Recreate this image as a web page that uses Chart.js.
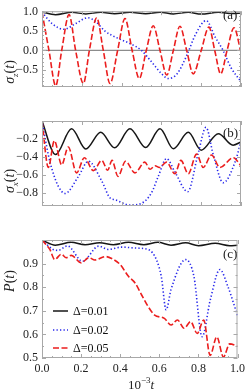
<!DOCTYPE html>
<html>
<head>
<meta charset="utf-8">
<script src="https://cdn.jsdelivr.net/npm/chart.js@4.4.1/dist/chart.umd.min.js"></script>
<style>
  body { margin: 0; background: #fff; }
  #wrap { position: relative; width: 249px; height: 391px; overflow: hidden; font-family: "Liberation Serif", "DejaVu Serif", serif; color: #222; }
  canvas { position: absolute; left: 0; top: 0; }
  .lbl { position: absolute; font-size: 13px; white-space: nowrap; line-height: 1; }
  .ytitle { font-size: 14px; transform: translate(-50%, -50%) rotate(-90deg); }
  .xtitle { transform: translate(-50%, -50%); }
  sub, sup { font-size: 9px; line-height: 0; }
</style>
</head>
<body>
<div id="wrap">
  <canvas id="pa" width="249" height="391"></canvas>
  <canvas id="pb" width="249" height="391"></canvas>
  <canvas id="pc" width="249" height="391"></canvas>
  <div class="lbl ytitle" style="left:10px;top:72px"><i>σ<sub>z</sub></i>(<i>t</i>)</div>
  <div class="lbl ytitle" style="left:10px;top:181px"><i>σ<sub>x</sub></i>(<i>t</i>)</div>
  <div class="lbl ytitle" style="left:10px;top:281px"><i>P</i>(<i>t</i>)</div>
  <div class="lbl xtitle" style="left:141px;top:384px">10<sup>−3</sup><i>t</i></div>
  <div class="lbl" style="left:223px;top:8px">(a)</div>
  <div class="lbl" style="left:223px;top:126px">(b)</div>
  <div class="lbl" style="left:223px;top:247px">(c)</div>
</div>
<script>
// Ticks
const xTicks = [0, 0.2, 0.4, 0.6, 0.8, 1.0];
const xMinor = [0.05, 0.1, 0.15, 0.25, 0.3, 0.35, 0.45, 0.5, 0.55, 0.65, 0.7, 0.75, 0.85, 0.9, 0.95];
const yTicksA = [-0.5, 0, 0.5, 1.0];
const yMinorA = [-0.9, -0.8, -0.7, -0.6, -0.4, -0.3, -0.2, -0.1, 0.1, 0.2, 0.3, 0.4, 0.6, 0.7, 0.8, 0.9];
const yTicksB = [-0.8, -0.6, -0.4, -0.2];
const yMinorB = [-0.9, -0.7, -0.5, -0.3, -0.1];
const yTicksC = [0.5, 0.6, 0.7, 0.8, 0.9];
const yMinorC = [0.55, 0.65, 0.75, 0.85, 0.95];

// Panel (a): sigma_z
const tZ1 = [0, 0.068, 0.149, 0.22, 0.295, 0.365, 0.442, 0.521, 0.593, 0.66, 0.735, 0.80, 0.886, 0.96, 1.0];
const z1 = [1.0, 0.93, 0.99, 0.95, 0.99, 0.955, 0.995, 0.955, 0.995, 0.95, 0.99, 0.945, 0.99, 0.96, 0.975];
const tZ2 = [0, 0.05, 0.11, 0.17, 0.23, 0.27, 0.317, 0.38, 0.442, 0.50, 0.551, 0.60, 0.635, 0.68, 0.73, 0.77, 0.825, 0.87, 0.91, 0.95, 1.0];
const z2 = [1.0, 0.7, 0.55, 0.7, 0.85, 0.75, 0.5, 0.32, 0.18, 0.0, -0.3, -0.6, -0.73, -0.6, -0.1, 0.4, 0.775, 0.35, 0.0, -0.45, -0.81];
const tZ5 = [0, 0.035, 0.069, 0.099, 0.136, 0.169, 0.208, 0.238, 0.275, 0.308, 0.342, 0.38, 0.417, 0.453, 0.489, 0.524, 0.559, 0.593, 0.627, 0.66, 0.693, 0.727, 0.76, 0.80, 0.839, 0.868, 0.898, 0.93, 0.965, 1.0];
const z5 = [1.0, 0, -0.92, 0, 0.93, 0, -0.86, 0, 0.85, 0, -0.86, 0, 0.83, 0, -0.73, 0, 0.64, 0, -0.64, 0, 0.63, 0, -0.61, 0, 0.605, 0, -0.61, 0, 0.59, -0.05];

// Panel (b): sigma_x
const tX1 = [0, 0.068, 0.149, 0.22, 0.295, 0.365, 0.442, 0.521, 0.593, 0.66, 0.735, 0.80, 0.886, 0.96, 1.0];
const x1 = [0, -0.375, -0.087, -0.313, -0.127, -0.30, -0.087, -0.297, -0.087, -0.31, -0.127, -0.326, -0.142, -0.27, -0.234];
const tX2 = [0, 0.032, 0.049, 0.082, 0.116, 0.183, 0.233, 0.30, 0.342, 0.367, 0.442, 0.50, 0.551, 0.584, 0.626, 0.668, 0.732, 0.785, 0.824, 0.861, 0.911, 0.97, 1.0];
const x2 = [0, -0.38, -0.53, -0.73, -0.81, -0.62, -0.45, -0.67, -0.86, -0.88, -0.94, -0.92, -0.8, -0.62, -0.42, -0.57, -0.79, -0.36, -0.07, -0.38, -0.69, -0.46, -0.23];
const tX5 = [0, 0.032, 0.062, 0.099, 0.132, 0.174, 0.213, 0.258, 0.30, 0.33, 0.352, 0.382, 0.42, 0.467, 0.517, 0.543, 0.568, 0.59, 0.626, 0.668, 0.698, 0.735, 0.777, 0.81, 0.852, 0.894, 0.961, 1.0];
const x5 = [0, -0.52, -0.22, -0.49, -0.29, -0.58, -0.41, -0.555, -0.44, -0.55, -0.44, -0.62, -0.45, -0.58, -0.46, -0.54, -0.5, -0.52, -0.46, -0.59, -0.44, -0.59, -0.37, -0.52, -0.38, -0.52, -0.41, -0.5];

// Panel (c): P
const tP1 = [0, 0.068, 0.149, 0.22, 0.295, 0.365, 0.442, 0.521, 0.593, 0.66, 0.735, 0.80, 0.886, 0.96, 1.0];
const p1 = [1.0, 0.978, 0.99, 0.98, 0.988, 0.98, 0.99, 0.98, 0.99, 0.978, 0.988, 0.976, 0.986, 0.976, 0.978];
const tP2 = [0, 0.057, 0.082, 0.13, 0.207, 0.29, 0.34, 0.408, 0.475, 0.543, 0.585, 0.61, 0.635, 0.66, 0.735, 0.777, 0.819, 0.861, 0.91, 0.952, 1.0];
const p2 = [1.0, 0.96, 0.956, 0.975, 0.91, 0.974, 0.96, 0.97, 0.966, 0.96, 0.917, 0.846, 0.704, 0.79, 0.917, 0.846, 0.59, 0.747, 0.875, 0.80, 0.68];
const tP5 = [0, 0.04, 0.065, 0.099, 0.124, 0.15, 0.2, 0.241, 0.27, 0.325, 0.36, 0.40, 0.442, 0.476, 0.509, 0.543, 0.576, 0.626, 0.66, 0.693, 0.727, 0.76, 0.794, 0.827, 0.86, 0.894, 0.928, 0.96, 1.0];
const p5 = [1.0, 0.96, 0.917, 0.94, 0.925, 0.935, 0.903, 0.925, 0.915, 0.93, 0.92, 0.896, 0.846, 0.818, 0.768, 0.718, 0.682, 0.668, 0.64, 0.661, 0.626, 0.654, 0.604, 0.661, 0.511, 0.59, 0.504, 0.56, 0.55];

const legendLabels = ['Δ=0.01', 'Δ=0.02', 'Δ=0.05'];

const FONT = '"Liberation Serif", "DejaVu Serif", serif';
const BLACK = '#161616';
const BLUE = 'rgb(40,40,235)';
const RED = 'rgb(235,30,30)';
const styles = [
    { borderColor: BLACK, borderWidth: 1.5, borderDash: [], order: 3 },
    { borderColor: BLUE, borderWidth: 1.6, borderDash: [1.3, 2.2], order: 2 },
    { borderColor: RED, borderWidth: 1.6, borderDash: [6, 2.5], order: 1 }
];

function pts(ts, vs) {
    return ts.map((t, i) => ({ x: t, y: vs[i] }));
}

function series(ts, vs, k) {
    return Object.assign({
        data: pts(ts, vs),
        pointRadius: 0,
        cubicInterpolationMode: 'monotone',
        fill: false
    }, styles[k]);
}

function fmt(v) {
    const s = Math.abs(v).toFixed(1);
    return v < -1e-9 ? '\u2212' + s : s;
}

// frame with inward ticks on all four sides
const framePlugin = {
    id: 'frame',
    afterDraw(chart, args, opts) {
        const { ctx, chartArea: a, scales } = chart;
        ctx.save();
        ctx.strokeStyle = '#a8a8a8';
        ctx.lineWidth = 1;
        ctx.strokeRect(a.left + 0.5, a.top + 0.5, a.right - a.left - 1, a.bottom - a.top - 1);
        ctx.beginPath();
        const tick = (vals, len) => {
            vals.forEach(v => {
                const px = Math.round(scales.x.getPixelForValue(v)) + 0.5;
                ctx.moveTo(px, a.bottom); ctx.lineTo(px, a.bottom - len);
                ctx.moveTo(px, a.top); ctx.lineTo(px, a.top + len);
            });
        };
        const ytick = (vals, len) => {
            vals.forEach(v => {
                const py = Math.round(scales.y.getPixelForValue(v)) + 0.5;
                ctx.moveTo(a.left, py); ctx.lineTo(a.left + len, py);
                ctx.moveTo(a.right, py); ctx.lineTo(a.right - len, py);
            });
        };
        tick(xTicks, 4);
        tick(xMinor, 2);
        ytick(opts.major, 4);
        ytick(opts.minor, 2);
        ctx.stroke();
        ctx.restore();
    }
};

const legendPlugin = {
    id: 'insideLegend',
    afterDraw(chart) {
        const { ctx } = chart;
        const ys = [311, 330, 348];
        ctx.save();
        ctx.font = '12px ' + FONT;
        ctx.textBaseline = 'middle';
        ctx.fillStyle = '#111';
        legendLabels.forEach((txt, i) => {
            const st = styles[i];
            ctx.beginPath();
            ctx.strokeStyle = st.borderColor;
            ctx.lineWidth = st.borderWidth;
            ctx.setLineDash(st.borderDash);
            ctx.moveTo(53, ys[i]);
            ctx.lineTo(68, ys[i]);
            ctx.stroke();
            ctx.setLineDash([]);
            ctx.fillText(txt, 73, ys[i] + 0.5);
        });
        ctx.restore();
    }
};

function makePanel(id, cfg) {
    return new Chart(document.getElementById(id), {
        type: 'line',
        data: { datasets: cfg.datasets },
        options: {
            responsive: false,
            animation: false,
            events: [],
            layout: { autoPadding: false, padding: { top: cfg.top, bottom: cfg.bottom, left: 0, right: 8 } },
            plugins: {
                legend: { display: false },
                tooltip: { enabled: false },
                frame: { major: cfg.yTicks, minor: cfg.yMinor }
            },
            scales: {
                x: {
                    type: 'linear', min: 0, max: 1,
                    display: cfg.showX,
                    grid: { display: false, drawTicks: false },
                    border: { display: false },
                    afterBuildTicks: s => { s.ticks = xTicks.map(v => ({ value: v })); },
                    afterFit: s => { s.height = 33; },
                    ticks: { font: { family: FONT, size: 12 }, color: '#222', padding: 4, maxRotation: 0, callback: v => fmt(v) }
                },
                y: {
                    type: 'linear', min: cfg.yMin, max: cfg.yMax,
                    grid: { display: false, drawTicks: false },
                    border: { display: false },
                    afterBuildTicks: s => { s.ticks = cfg.yTicks.map(v => ({ value: v })); },
                    afterFit: s => { s.width = 42; },
                    ticks: { font: { family: FONT, size: 12 }, color: '#222', padding: 4, callback: v => fmt(v) }
                }
            }
        },
        plugins: [framePlugin].concat(cfg.plugins || [])
    });
}

// zero line in panel (a)
const zeroLine = {
    data: [{ x: 0, y: 0 }, { x: 1, y: 0 }],
    borderColor: '#8c8c8c', borderWidth: 1.3, pointRadius: 0, order: 4
};

makePanel('pa', {
    top: 4, bottom: 271, yMin: -0.95, yMax: 1.02, showX: false,
    yTicks: yTicksA, yMinor: yMinorA,
    datasets: [zeroLine, series(tZ1, z1, 0), series(tZ2, z2, 1), series(tZ5, z5, 2)]
});

makePanel('pb', {
    top: 121, bottom: 152, yMin: -0.95, yMax: 0.0, showX: false,
    yTicks: yTicksB, yMinor: yMinorB,
    datasets: [series(tX1, x1, 0), series(tX2, x2, 1), series(tX5, x5, 2)]
});

makePanel('pc', {
    top: 240, bottom: 0, yMin: 0.5, yMax: 1.0, showX: true,
    yTicks: yTicksC, yMinor: yMinorC,
    datasets: [series(tP1, p1, 0), series(tP2, p2, 1), series(tP5, p5, 2)],
    plugins: [legendPlugin]
});
</script>
</body>
</html>
